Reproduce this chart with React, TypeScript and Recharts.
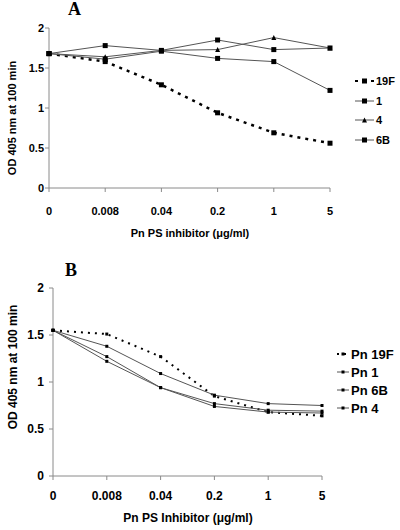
import React from "react";
import { LineChart, Line, XAxis, YAxis, Legend } from "recharts";

// dose categories (µg/ml) and y ticks shared by both panels
const doses = ["0", "0.008", "0.04", "0.2", "1", "5"];
const yTicks = [0, 0.5, 1, 1.5, 2];

// Panel A - OD 405 nm at 100 min
const a19F = [1.68, 1.58, 1.29, 0.94, 0.69, 0.56];
const a1 = [1.68, 1.78, 1.72, 1.85, 1.73, 1.75];
const a4 = [1.68, 1.64, 1.72, 1.73, 1.88, 1.75];
const a6B = [1.68, 1.61, 1.71, 1.62, 1.58, 1.22];

// Panel B
const b19F = [1.55, 1.51, 1.27, 0.85, 0.68, 0.64];
const b1 = [1.55, 1.38, 1.09, 0.86, 0.77, 0.75];
const b6B = [1.55, 1.27, 0.94, 0.77, 0.7, 0.69];
const b4 = [1.55, 1.22, 0.94, 0.74, 0.68, 0.67];

const FONT = '"Liberation Sans", Arial, sans-serif';
const AXIS = "#8a8a8a";

type Shape = "square" | "triangle";
type Series = { key: string; name: string; dotted?: boolean; shape: Shape };

const seriesA: Series[] = [
    { key: "s19F", name: "19F", dotted: true, shape: "square" },
    { key: "s1", name: "1", shape: "square" },
    { key: "s4", name: "4", shape: "triangle" },
    { key: "s6B", name: "6B", shape: "square" },
];

const seriesB: Series[] = [
    { key: "s19F", name: "Pn 19F", dotted: true, shape: "square" },
    { key: "s1", name: "Pn 1", shape: "square" },
    { key: "s6B", name: "Pn 6B", shape: "square" },
    { key: "s4", name: "Pn 4", shape: "square" },
];

const dataA = doses.map((dose, i) => ({ dose, s19F: a19F[i], s1: a1[i], s4: a4[i], s6B: a6B[i] }));
const dataB = doses.map((dose, i) => ({ dose, s19F: b19F[i], s1: b1[i], s6B: b6B[i], s4: b4[i] }));

function Marker({ cx, cy, shape, size }: { cx: number; cy: number; shape: Shape; size: number }) {
    if (cx == null || cy == null) return null;
    if (shape === "triangle") {
        const h = size;
        return <polygon points={`${cx},${cy - h / 2} ${cx - h / 2},${cy + h / 2} ${cx + h / 2},${cy + h / 2}`} fill="#000" />;
    }
    return <rect x={cx - size / 2} y={cy - size / 2} width={size} height={size} fill="#000" />;
}

// recharts overrides x/y on cloned labels, so the position comes in as px/py
function AxisTitle({ px, py, text, size, rotate }: any) {
    return (
        <text
            x={px}
            y={py}
            transform={rotate ? `rotate(-90 ${px} ${py})` : undefined}
            textAnchor="middle"
            dominantBaseline="central"
            fontFamily={FONT}
            fontWeight="bold"
            fontSize={size}
            fill="#000"
        >
            {text}
        </text>
    );
}

function SeriesLegend({ items, size, rowH, symW, gap, markSize, dash }: any) {
    return (
        <div style={{ fontFamily: FONT, fontWeight: "bold", fontSize: size, color: "#000" }}>
            {items.map((s: Series) => (
                <div key={s.key} style={{ display: "flex", alignItems: "center", height: rowH, whiteSpace: "nowrap" }}>
                    <svg width={symW} height={10} style={{ display: "block" }}>
                        <line
                            x1={0}
                            y1={5}
                            x2={symW}
                            y2={5}
                            stroke={s.dotted ? "#000" : "#555"}
                            strokeWidth={s.dotted ? 2 : 1}
                            strokeDasharray={s.dotted ? dash : undefined}
                        />
                        <Marker cx={symW / 2} cy={5} shape={s.shape} size={markSize} />
                    </svg>
                    <span style={{ marginLeft: gap }}>{s.name}</span>
                </div>
            ))}
        </div>
    );
}

function Panel({ data, series, top, height, margin, fontSize, yTick, xTick, yTitle, xTitle, xLabel, legend, markSize, dotW, dotDash }: any) {
    return (
        <div style={{ position: "absolute", left: 0, top, width: 400, height }}>
            <LineChart width={400} height={height} data={data} margin={margin}>
                <XAxis
                    dataKey="dose"
                    type="category"
                    interval={0}
                    stroke={AXIS}
                    tickSize={4}
                    tickMargin={xTick}
                    tick={{ fill: "#000", fontSize, fontWeight: "bold", fontFamily: FONT }}
                    height={30}
                    label={<AxisTitle px={xTitle[0]} py={xTitle[1]} text={xLabel} size={fontSize} />}
                />
                <YAxis
                    domain={[0, 2]}
                    ticks={yTicks}
                    interval={0}
                    stroke={AXIS}
                    width={30}
                    tickSize={4}
                    tickMargin={yTick}
                    tick={{ fill: "#000", fontSize, fontWeight: "bold", fontFamily: FONT }}
                    label={<AxisTitle px={yTitle[0]} py={yTitle[1]} text="OD 405 nm at 100 min" size={fontSize} rotate />}
                />
                <Legend
                    layout="vertical"
                    align="center"
                    verticalAlign="middle"
                    width={64}
                    wrapperStyle={legend.pos}
                    content={() => (
                        <SeriesLegend
                            items={series}
                            size={legend.size}
                            rowH={legend.rowH}
                            symW={legend.symW}
                            gap={legend.gap}
                            markSize={markSize}
                            dash={dotDash}
                        />
                    )}
                />
                {series.map((s: Series) => (
                    <Line
                        key={s.key}
                        dataKey={s.key}
                        name={s.name}
                        type="linear"
                        stroke={s.dotted ? "#000" : "#555"}
                        strokeWidth={s.dotted ? dotW : 1}
                        strokeDasharray={s.dotted ? dotDash : undefined}
                        isAnimationActive={false}
                        activeDot={false}
                        dot={(p: any) => <Marker key={`${s.key}-${p.index}`} cx={p.cx} cy={p.cy} shape={s.shape} size={markSize} />}
                    />
                ))}
            </LineChart>
        </div>
    );
}

export default function App() {
    return (
        <div style={{ position: "absolute", left: 0, top: 0, width: 400, height: 530, background: "#fff" }}>
            <div style={{ position: "absolute", left: 68, top: 0, fontFamily: '"Liberation Serif", "Times New Roman", serif', fontWeight: "bold", fontSize: 18, lineHeight: "18px" }}>
                A
            </div>
            <Panel
                data={dataA}
                series={seriesA}
                top={0}
                height={260}
                margin={{ top: 28, right: 70, left: 19, bottom: 42 }}
                fontSize={11}
                yTick={1}
                xTick={15}
                yTitle={[12, 118]}
                xTitle={[190, 233]}
                xLabel="Pn PS inhibitor (μg/ml)"
                legend={{ pos: { left: 355, top: 71 }, size: 11, rowH: 19.7, symW: 19, gap: 2 }}
                markSize={5}
                dotW={2.5}
                dotDash="3 5"
            />
            <div style={{ position: "absolute", left: 65, top: 261, fontFamily: '"Liberation Serif", "Times New Roman", serif', fontWeight: "bold", fontSize: 18, lineHeight: "18px" }}>
                B
            </div>
            <Panel
                data={dataB}
                series={seriesB}
                top={260}
                height={270}
                margin={{ top: 28, right: 78, left: 23, bottom: 24 }}
                fontSize={12}
                yTick={5}
                xTick={11}
                yTitle={[13, 107]}
                xTitle={[188, 258]}
                xLabel="Pn PS Inhibitor (μg/ml)"
                legend={{ pos: { left: 337, top: 85 }, size: 13, rowH: 18, symW: 12, gap: 2 }}
                markSize={3}
                dotW={2}
                dotDash="2 5"
            />
        </div>
    );
}
